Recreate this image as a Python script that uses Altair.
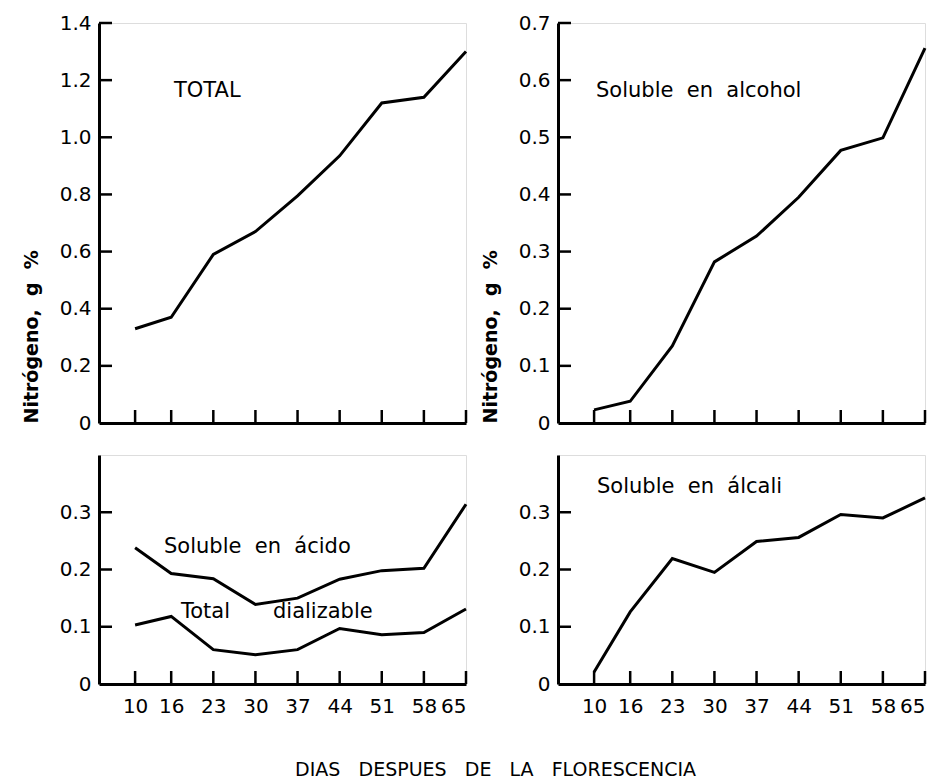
import altair as alt
import pandas as pd

days = [10, 16, 23, 30, 37, 44, 51, 58, 65]
total = [0.33, 0.37, 0.59, 0.67, 0.795, 0.935, 1.12, 1.14, 1.30]
alcohol = [0.023, 0.038, 0.135, 0.282, 0.327, 0.395, 0.477, 0.499, 0.656]
acido = [0.238, 0.193, 0.184, 0.139, 0.150, 0.183, 0.198, 0.202, 0.314]
dializable = [0.103, 0.118, 0.060, 0.051, 0.060, 0.097, 0.086, 0.090, 0.131]
alcali = [0.021, 0.126, 0.219, 0.195, 0.249, 0.256, 0.296, 0.290, 0.325]

ticks_total = [0.2, 0.4, 0.6, 0.8, 1.0, 1.2, 1.4]
ticks_alcohol = [0.1, 0.2, 0.3, 0.4, 0.5, 0.6, 0.7]
ticks_bottom = [0.1, 0.2, 0.3]
labels_total = [0, 0.2, 0.4, 0.6, 0.8, 1.0, 1.2, 1.4]
labels_alcohol = [0, 0.1, 0.2, 0.3, 0.4, 0.5, 0.6, 0.7]
labels_bottom = [0, 0.1, 0.2, 0.3]

FONT = "DejaVu Sans"
W = 367
HT = 400
HB = 229
TICK = 13
SP = "\u00a0\u00a0"


def panel(series, ymax, yticks, ylabels, height, show_xlabels, ytitle, texts):
    rows = []
    for name, vals in series:
        for d, v in zip(days, vals):
            rows.append({"day": d, "value": v, "series": name})
    df = pd.DataFrame(rows)

    xaxis_kw = dict(values=days, ticks=False, domainWidth=3, domainColor="black",
                    grid=False, title=None, labels=show_xlabels,
                    labelFontSize=20, labelFont=FONT, labelColor="black",
                    labelPadding=12)
    yaxis_kw = dict(values=ylabels, ticks=False, domainWidth=3, domainColor="black",
                    grid=False, labelFontSize=20, labelFont=FONT, labelColor="black",
                    labelPadding=8,
                    labelExpr="datum.value == 0 ? '0' : format(datum.value, '.1f')")
    if ytitle:
        yaxis_kw.update(title=ytitle, titleFont=FONT, titleFontSize=19,
                        titleFontWeight="bold", titleColor="black",
                        titleAnchor="start", titlePadding=18)
    else:
        yaxis_kw.update(title=None)

    xs = alt.Scale(domain=[4, 65], nice=False, zero=False)
    ys = alt.Scale(domain=[0, ymax], nice=False)

    lines = alt.Chart(df).mark_line(color="black", strokeWidth=3, strokeJoin="miter").encode(
        x=alt.X("day:Q", scale=xs, axis=alt.Axis(**xaxis_kw)),
        y=alt.Y("value:Q", scale=ys, axis=alt.Axis(**yaxis_kw)),
        detail="series:N",
    )
    xt = alt.Chart(pd.DataFrame({"day": days})).mark_rule(color="black", strokeWidth=2.5).encode(
        x=alt.X("day:Q", scale=xs),
        y=alt.value(height),
        y2=alt.value(height - TICK),
    )
    yt = alt.Chart(pd.DataFrame({"value": yticks})).mark_rule(color="black", strokeWidth=2.5).encode(
        y=alt.Y("value:Q", scale=ys),
        x=alt.value(0),
        x2=alt.value(TICK),
    )
    layers = [lines, xt, yt]
    for label, px, py in texts:
        layers.append(
            alt.Chart(pd.DataFrame({"t": [label]})).mark_text(
                align="left", baseline="middle", font=FONT, fontSize=21, color="black"
            ).encode(x=alt.value(px), y=alt.value(py), text="t:N")
        )
    return alt.layer(*layers).properties(width=W, height=height)


tl = panel([("TOTAL", total)], 1.4, ticks_total, labels_total, HT, False,
           "Nitrógeno,\u00a0 g\u00a0 %", [("TOTAL", 75, 68)])
tr = panel([("alcohol", alcohol)], 0.7, ticks_alcohol, labels_alcohol, HT, False,
           "Nitrógeno,\u00a0 g\u00a0 %", [("Soluble" + SP + "en" + SP + "alcohol", 38, 68)])
bl = panel([("acido", acido), ("dializable", dializable)], 0.4, ticks_bottom, labels_bottom,
           HB, True, None,
           [("Soluble" + SP + "en" + SP + "ácido", 65, 92), ("Total", 82, 157), ("dializable", 174, 157)])
br = panel([("alcali", alcali)], 0.4, ticks_bottom, labels_bottom, HB, True, None,
           [("Soluble" + SP + "en" + SP + "álcali", 39, 32)])

chart = alt.concat(
    tl, tr, bl, br, columns=2,
    spacing=alt.RowColnumber(row=20, column=7),
).properties(
    title=alt.TitleParams(
        "DIAS" + SP + " DESPUES" + SP + " DE" + SP + " LA" + SP + " FLORESCENCIA",
        orient="bottom", anchor="middle", font=FONT, fontSize=19,
        fontWeight="normal", color="black", offset=44, dx=19,
    ),
    padding={"left": 21, "top": 12, "right": 5, "bottom": 5},
).configure_view(stroke=None).configure(background="white")

chart.save("out.html", embed_options={"renderer": "svg", "actions": False})
